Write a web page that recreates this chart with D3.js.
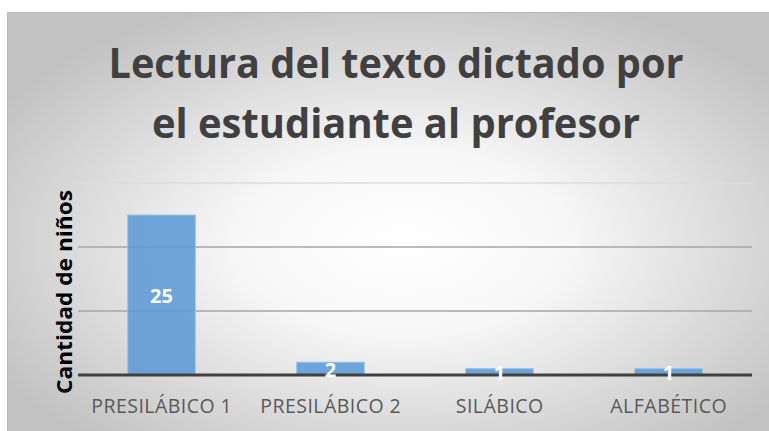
<!DOCTYPE html>
<html><head><meta charset="utf-8">
<script src="https://cdn.jsdelivr.net/npm/d3@7"></script>
<style>body{margin:0;background:#fff;}svg{display:block;}</style>
</head><body>
<script>
const categories = ["PRESILÁBICO 1","PRESILÁBICO 2","SILÁBICO","ALFABÉTICO"];
const values = [25, 2, 1, 1];
const yTicks = [0, 10, 20, 30];
const titleLines = ["Lectura del texto dictado por","el estudiante al profesor"];
const yTitle = "Cantidad de niños";

const W = 769, H = 431;
const svg = d3.select("body").append("svg").attr("width", W).attr("height", H);
const defs = svg.append("defs");
const grad = defs.append("radialGradient").attr("id","bg")
  .attr("cx","52%").attr("cy","55%").attr("r","62%");
grad.append("stop").attr("offset","0%").attr("stop-color","#ffffff");
grad.append("stop").attr("offset","35%").attr("stop-color","#f7f7f7");
grad.append("stop").attr("offset","100%").attr("stop-color","#c2c2c2");
svg.append("rect").attr("x",7).attr("y",12).attr("width",W-7).attr("height",H-12).attr("fill","url(#bg)");
svg.append("line").attr("x1",7).attr("x2",W).attr("y1",12.5).attr("y2",12.5).attr("stroke","#b8b8b8");
svg.append("line").attr("x1",7.5).attr("x2",7.5).attr("y1",12).attr("y2",H).attr("stroke","#b8b8b8");

const x = d3.scaleBand().domain(categories).range([77, 753]).paddingInner(0.6).paddingOuter(0.3);
const y = d3.scaleLinear().domain([0, 30]).range([375, 183]);

// gridlines
const grid = svg.append("g");
grid.selectAll("line").data(yTicks.filter(d=>d>0)).join("line")
  .attr("x1",78).attr("x2",752).attr("y1",d=>y(d)).attr("y2",d=>y(d))
  .attr("stroke",d=>d===30?"#dcdcdc":"#a6a6a6").attr("stroke-width",1.5);

// bars
svg.append("g").selectAll("rect").data(values).join("rect")
  .attr("x",(d,i)=>x(categories[i])).attr("width",x.bandwidth())
  .attr("y",d=>y(d)).attr("height",d=>y(0)-y(d))
  .attr("fill","#5b9bd5").attr("fill-opacity",0.88)
  .attr("stroke","#9cc3e8").attr("stroke-width",1);

// axis line
const xAxis = svg.append("g").attr("transform","translate(0,375)")
  .call(d3.axisBottom(x).tickSize(0).tickPadding(24));
xAxis.select(".domain").attr("d","M78,0H752").attr("stroke","#404040").attr("stroke-width",3);
xAxis.selectAll("text").attr("font-family","'Open Sans', sans-serif").attr("font-size",19.5).attr("fill","#595959")
  .each(function(){ const w=this.getComputedTextLength(); d3.select(this).attr("textLength", w*1.04).attr("lengthAdjust","spacing"); });

// value labels
svg.append("g").selectAll("text").data(values).join("text")
  .attr("x",(d,i)=>x(categories[i])+x.bandwidth()/2)
  .attr("y",d=>(y(d)+y(0))/2 + 8)
  .attr("text-anchor","middle").attr("font-family","'Open Sans', sans-serif")
  .attr("font-weight","bold").attr("font-size",20).attr("fill","#ffffff")
  .text(d=>d);

// title
svg.append("g").selectAll("text").data(titleLines).join("text")
  .attr("x",396).attr("y",(d,i)=>78 + i*60)
  .attr("text-anchor","middle").attr("font-family","'Open Sans', sans-serif")
  .attr("font-weight","bold").attr("font-size",42).attr("fill","#404040")
  .attr("textLength",(d,i)=>i===0?575:488).attr("lengthAdjust","spacingAndGlyphs")
  .text(d=>d);

// y title
svg.append("text").attr("transform","translate(72,292) rotate(-90)")
  .attr("text-anchor","middle").attr("font-family","'Open Sans', sans-serif")
  .attr("font-weight","bold").attr("font-size",21).attr("fill","#000")
  .attr("textLength",204).attr("lengthAdjust","spacingAndGlyphs")
  .text(yTitle);
</script>
</body></html>
